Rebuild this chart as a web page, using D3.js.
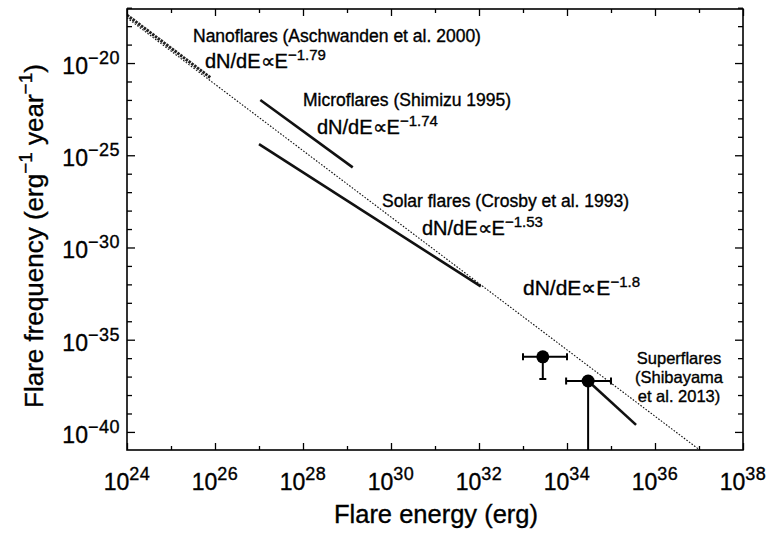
<!DOCTYPE html>
<html>
<head>
<meta charset="utf-8">
<script src="https://cdn.jsdelivr.net/npm/d3@7"></script>
<style>
  html, body { margin: 0; padding: 0; background: #fff; }
  svg { display: block; font-family: "Liberation Sans", Arial, Helvetica, sans-serif; }
  text { fill: #000; stroke: #000; stroke-width: 0.35px; }
</style>
</head>
<body>
<svg id="chart" width="770" height="536"></svg>
<script>
// ---- data (log10 values) ----
const xTickExponents = d3.range(24, 39);             // every decade of energy
const xLabelExponents = [24, 26, 28, 30, 32, 34, 36, 38];
const yTickExponents = d3.range(-40, -16);           // every decade of frequency
const yLabelExponents = [-40, -35, -30, -25, -20];

// Observed power-law segments: index, energy range (log10 E), frequency at start (log10)
const segmentNames = ["Nanoflares", "Microflares", "Solar flares"];
const segmentIndex = [-1.79, -1.74, -1.53];
const segmentLogEStart = [24.0, 27.03, 27.0];
const segmentLogEEnd = [25.9, 29.13, 32.04];
const segmentLogFStart = [-17.4, -22.0, -24.4];

// Overall power law dN/dE ∝ E^-1.8
const refIndex = -1.8;
const refLogEAnchor = 24;
const refLogFAnchor = -17.55;
const refLogERange = [24, 38];

// Superflare frequencies with error ranges
const superLogE = [33.45, 34.48];
const superLogELo = [33.0, 33.98];
const superLogEHi = [34.0, 35.0];
const superLogF = [-35.93, -37.24];
const superLogFLo = [-37.13, -45];
const superLogFHi = [-35.8, -37.0];

// Superflare distribution slope segment
const superLineLogE = [34.48, 35.57];
const superLineLogF = [-37.24, -39.62];

// ---- layout ----
const svg = d3.select("#chart");
const plot = { left: 127, right: 743, top: 9, bottom: 450 };
const p10 = e => Math.pow(10, e);

const x = d3.scaleLog().domain([p10(24), p10(38)]).range([plot.left, plot.right]);
const y = d3.scaleLog().domain([p10(-40.98), p10(-17.07)]).range([plot.bottom, plot.top]);

svg.append("defs").append("clipPath").attr("id", "plotClip")
  .append("rect")
  .attr("x", plot.left).attr("y", plot.top)
  .attr("width", plot.right - plot.left).attr("height", plot.bottom - plot.top);

const line = d3.line().x(d => x(p10(d[0]))).y(d => y(p10(d[1])));
const g = svg.append("g").attr("clip-path", "url(#plotClip)");

// overall E^-1.8 law (dotted)
const refPts = refLogERange.map(e => [e, refLogFAnchor + refIndex * (e - refLogEAnchor)]);
g.append("path").attr("d", line(refPts))
  .attr("fill", "none").attr("stroke", "#111").attr("stroke-width", 1.1)
  .attr("stroke-dasharray", "1.6,1.6");

// observed segments
segmentNames.forEach((name, i) => {
  const pts = [segmentLogEStart[i], segmentLogEEnd[i]].map(e =>
    [e, segmentLogFStart[i] + segmentIndex[i] * (e - segmentLogEStart[i])]);
  const path = g.append("path").attr("d", line(pts))
    .attr("fill", "none").attr("stroke", "#111").attr("stroke-width", 2.6);
  if (name === "Nanoflares") path.attr("stroke-dasharray", "2.5,1").attr("stroke", "#222").attr("stroke-width", 3);
});

// superflare slope
g.append("path").attr("d", line(superLineLogE.map((e, i) => [e, superLineLogF[i]])))
  .attr("fill", "none").attr("stroke", "#111").attr("stroke-width", 2.6);

// superflare points with error bars
const cap = 3.5;
superLogE.forEach((e, i) => {
  const cx = x(p10(e)), cy = y(p10(superLogF[i]));
  const x0 = x(p10(superLogELo[i])), x1 = x(p10(superLogEHi[i]));
  const yLo = y(p10(superLogFLo[i])), yHi = y(p10(superLogFHi[i]));
  const eg = g.append("g").attr("stroke", "#000").attr("stroke-width", 2);
  eg.append("line").attr("x1", x0).attr("x2", x1).attr("y1", cy).attr("y2", cy);
  eg.append("line").attr("x1", x0).attr("x2", x0).attr("y1", cy - cap).attr("y2", cy + cap);
  eg.append("line").attr("x1", x1).attr("x2", x1).attr("y1", cy - cap).attr("y2", cy + cap);
  eg.append("line").attr("x1", cx).attr("x2", cx).attr("y1", yHi).attr("y2", yLo);
  eg.append("line").attr("x1", cx - cap).attr("x2", cx + cap).attr("y1", yLo).attr("y2", yLo);
  g.append("circle").attr("cx", cx).attr("cy", cy).attr("r", 6.5).attr("fill", "#000");
});

// ---- axes (ticks pointing inward on all four sides) ----
const xTicks = xTickExponents.map(p10);
const yTicks = yTickExponents.map(p10);
const isXMajor = v => Math.round(Math.log10(v)) % 2 === 0;
const isYMajor = v => Math.round(Math.log10(v)) % 5 === 0;

function styleAxis(sel) {
  sel.select(".domain").remove();
  sel.selectAll("text").remove();
  sel.selectAll("line").attr("stroke", "#000").attr("stroke-width", 1.3);
}
svg.append("g").attr("transform", `translate(0,${plot.bottom})`)
  .call(d3.axisBottom(x).tickValues(xTicks).tickFormat(""))
  .call(styleAxis)
  .selectAll(".tick line").attr("y2", d => isXMajor(d) ? -7 : -4);
svg.append("g").attr("transform", `translate(0,${plot.top})`)
  .call(d3.axisTop(x).tickValues(xTicks).tickFormat(""))
  .call(styleAxis)
  .selectAll(".tick line").attr("y2", d => isXMajor(d) ? 7 : 4);
svg.append("g").attr("transform", `translate(${plot.left},0)`)
  .call(d3.axisLeft(y).tickValues(yTicks).tickFormat(""))
  .call(styleAxis)
  .selectAll(".tick line").attr("x2", d => isYMajor(d) ? 8 : 5);
svg.append("g").attr("transform", `translate(${plot.right},0)`)
  .call(d3.axisRight(y).tickValues(yTicks).tickFormat(""))
  .call(styleAxis)
  .selectAll(".tick line").attr("x2", d => isYMajor(d) ? -8 : -5);

svg.append("rect")
  .attr("x", plot.left).attr("y", plot.top)
  .attr("width", plot.right - plot.left).attr("height", plot.bottom - plot.top)
  .attr("fill", "none").attr("stroke", "#000").attr("stroke-width", 1.6);

// power-of-ten tick labels
function powerLabel(sel, exp) {
  sel.append("tspan").text("10").attr("font-size", 23);
  sel.append("tspan").text(String(exp).replace("-", "\u2212"))
    .attr("font-size", 18).attr("dy", -10).attr("letter-spacing", 0.5);
}
xLabelExponents.forEach(e => {
  svg.append("text").attr("x", x(p10(e))).attr("y", 490)
    .attr("text-anchor", "middle")
    .call(powerLabel, e);
});
yLabelExponents.forEach(e => {
  svg.append("text").attr("x", 120).attr("y", y(p10(e)) + 11)
    .attr("text-anchor", "end")
    .call(powerLabel, e);
});

// axis titles
svg.append("text").attr("x", 436).attr("y", 523).attr("text-anchor", "middle")
  .attr("font-size", 25.5).text("Flare energy (erg)");
const yt = svg.append("text").attr("transform", "translate(43,236) rotate(-90)")
  .attr("text-anchor", "middle").attr("font-size", 26);
yt.append("tspan").text("Flare frequency (erg");
yt.append("tspan").text("\u22121").attr("font-size", 19).attr("dy", -11);
yt.append("tspan").text(" year").attr("dy", 11);
yt.append("tspan").text("\u22121").attr("font-size", 19).attr("dy", -11);
yt.append("tspan").text(")").attr("dy", 11);

// annotations
function note(xp, yp, str, size, anchor) {
  svg.append("text").attr("x", xp).attr("y", yp).attr("font-size", size)
    .attr("text-anchor", anchor || "start").text(str);
}
function lawLabel(xp, yp, idx, size) {
  const t = svg.append("text").attr("x", xp).attr("y", yp).attr("font-size", size || 20);
  t.append("tspan").text("dN/dE\u221DE");
  t.append("tspan").text("\u2212" + idx).attr("font-size", 15).attr("dy", -8);
}
note(193, 42, "Nanoflares (Aschwanden et al. 2000)", 17.5);
lawLabel(205, 68, Math.abs(segmentIndex[0]).toFixed(2));
note(303, 106, "Microflares (Shimizu 1995)", 17.5);
lawLabel(317, 134, Math.abs(segmentIndex[1]).toFixed(2));
note(382, 207, "Solar flares (Crosby et al. 1993)", 17.5);
lawLabel(422, 235, Math.abs(segmentIndex[2]).toFixed(2));
lawLabel(523, 295, Math.abs(refIndex).toFixed(1), 21);
note(679, 364, "Superflares", 16.5, "middle");
note(679, 383, "(Shibayama", 16.5, "middle");
note(679, 402, "et al. 2013)", 16.5, "middle");
</script>
</body>
</html>
